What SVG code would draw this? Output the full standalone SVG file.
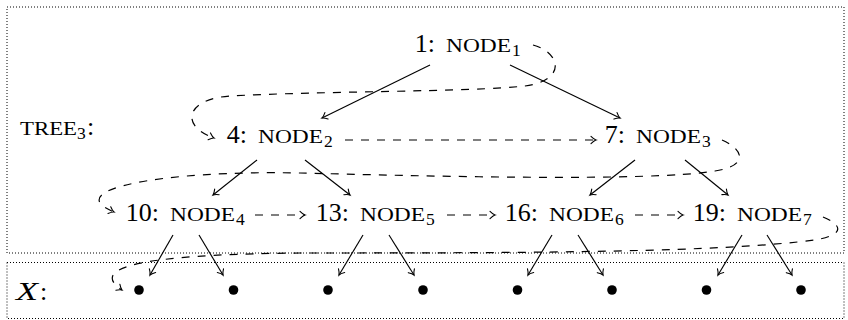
<svg xmlns="http://www.w3.org/2000/svg" width="848" height="320" viewBox="0 0 848 320">
<style>
  .box{fill:none;stroke:#000;stroke-width:1;stroke-dasharray:1 2}
  .e{fill:none;stroke:#000;stroke-width:1.15}
  .d{fill:none;stroke:#000;stroke-width:1.2;stroke-dasharray:8 8}
  .num{font-family:"Liberation Serif",serif;font-size:26px;fill:#000}
  .sc{font-family:"Liberation Serif",serif;font-size:18.5px;fill:#000}
  .sub{font-family:"Liberation Serif",serif;font-size:17.5px;fill:#000}
  .it{font-family:"Liberation Serif",serif;font-size:26px;font-style:italic;fill:#000}
</style>
<defs>
  <marker id="to" markerUnits="userSpaceOnUse" viewBox="-6 -5 7 10" refX="0" refY="0" markerWidth="7" markerHeight="10" orient="auto" overflow="visible">
    <path d="M-5,-3.6 Q-2,-0.6 0,0 Q-2,0.6 -5,3.6" fill="none" stroke="#000" stroke-width="1.1" stroke-dasharray="none" stroke-linecap="round"/>
  </marker>
</defs>
<rect class="box" x="7" y="7" width="837" height="246"/>
<rect class="box" x="7" y="262.5" width="837" height="56"/>

<g id="label-tree">
  <text class="sc" x="20" y="135" textLength="57" lengthAdjust="spacingAndGlyphs">TREE</text>
  <text class="sub" x="77" y="139">3</text>
  <text class="num" x="87" y="135">:</text>
</g>
<g id="label-x">
  <text class="it" x="16" y="300" textLength="22" lengthAdjust="spacingAndGlyphs">X</text>
  <text class="num" x="40" y="300">:</text>
</g>

<g id="n1">
  <text class="num" x="435" y="52" text-anchor="end">1:</text>
  <text class="sc" x="446" y="52" textLength="65" lengthAdjust="spacingAndGlyphs">NODE</text>
  <text class="sub" x="512" y="56">1</text>
</g>
<g id="n2">
  <text class="num" x="247" y="143" text-anchor="end">4:</text>
  <text class="sc" x="258" y="143" textLength="65" lengthAdjust="spacingAndGlyphs">NODE</text>
  <text class="sub" x="324" y="147">2</text>
</g>
<g id="n3">
  <text class="num" x="625" y="143" text-anchor="end">7:</text>
  <text class="sc" x="636" y="143" textLength="65" lengthAdjust="spacingAndGlyphs">NODE</text>
  <text class="sub" x="702" y="147">3</text>
</g>
<g id="n4">
  <text class="num" x="159" y="221" text-anchor="end">10:</text>
  <text class="sc" x="170" y="221" textLength="65" lengthAdjust="spacingAndGlyphs">NODE</text>
  <text class="sub" x="236" y="225">4</text>
</g>
<g id="n5">
  <text class="num" x="349" y="221" text-anchor="end">13:</text>
  <text class="sc" x="360" y="221" textLength="65" lengthAdjust="spacingAndGlyphs">NODE</text>
  <text class="sub" x="426" y="225">5</text>
</g>
<g id="n6">
  <text class="num" x="538" y="221" text-anchor="end">16:</text>
  <text class="sc" x="549" y="221" textLength="65" lengthAdjust="spacingAndGlyphs">NODE</text>
  <text class="sub" x="615" y="225">6</text>
</g>
<g id="n7">
  <text class="num" x="726" y="221" text-anchor="end">19:</text>
  <text class="sc" x="737" y="221" textLength="65" lengthAdjust="spacingAndGlyphs">NODE</text>
  <text class="sub" x="803" y="225">7</text>
</g>

<g id="x-elements">
  <circle id="x1" cx="139" cy="290" r="4.8"/>
  <circle id="x2" cx="233.5" cy="290" r="4.8"/>
  <circle id="x3" cx="328" cy="290" r="4.8"/>
  <circle id="x4" cx="423" cy="290" r="4.8"/>
  <circle id="x5" cx="517.5" cy="290" r="4.8"/>
  <circle id="x6" cx="612" cy="290" r="4.8"/>
  <circle id="x7" cx="706.5" cy="290" r="4.8"/>
  <circle id="x8" cx="801" cy="290" r="4.8"/>
</g>

<g id="connectors">
  <path class="e" d="M430,65 L322,118" marker-end="url(#to)"/>
  <path class="e" d="M510,65 L620,118" marker-end="url(#to)"/>
  <path class="e" d="M257,160 L213,195" marker-end="url(#to)"/>
  <path class="e" d="M305,160 L350,195" marker-end="url(#to)"/>
  <path class="e" d="M635,160 L590,195" marker-end="url(#to)"/>
  <path class="e" d="M685,160 L728,195" marker-end="url(#to)"/>
  <path class="e" d="M173,235 L150,275" marker-end="url(#to)"/>
  <path class="e" d="M199,235 L223,275" marker-end="url(#to)"/>
  <path class="e" d="M363,235 L339,275" marker-end="url(#to)"/>
  <path class="e" d="M389,235 L414,275" marker-end="url(#to)"/>
  <path class="e" d="M552,235 L528,275" marker-end="url(#to)"/>
  <path class="e" d="M578,235 L603,275" marker-end="url(#to)"/>
  <path class="e" d="M742,235 L718,275" marker-end="url(#to)"/>
  <path class="e" d="M767,235 L792,275" marker-end="url(#to)"/>
  <path class="d" d="M345,140 L596,140" marker-end="url(#to)"/>
  <path class="d" d="M255,215 L305,215" marker-end="url(#to)"/>
  <path class="d" d="M447,215 L495,215" marker-end="url(#to)"/>
  <path class="d" d="M635,215 L683,215" marker-end="url(#to)"/>
  <path class="d" d="M533,45 C560,52 568,80 525,86 C470,92 320,91 230,96 C185,99 180,126 214,138" marker-end="url(#to)"/>
  <path class="d" d="M722,140 C745,150 748,166 715,171 C650,182 420,176 300,173 C160,170 60,190 114,212" marker-end="url(#to)"/>
  <path class="d" d="M823,217 C840,224 848,234 815,240 C720,252 550,253 300,253 C180,254 80,262 122,290" marker-end="url(#to)"/>
</g>
</svg>
